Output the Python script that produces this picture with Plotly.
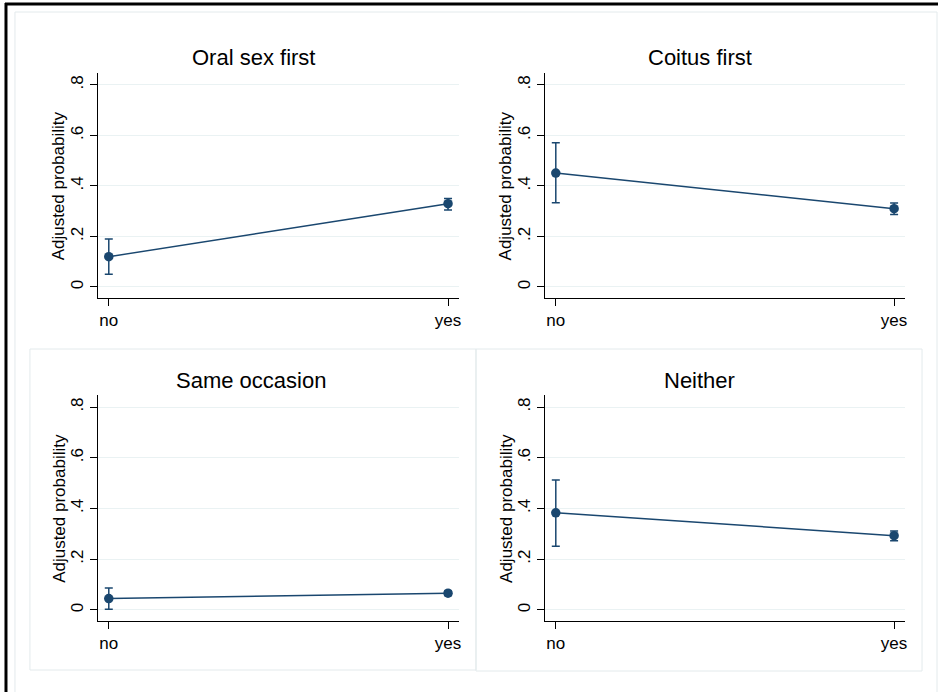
import plotly.graph_objects as go

categories = ["no", "yes"]
panel_titles = ["Oral sex first", "Coitus first", "Same occasion", "Neither"]

oral_est = [0.12, 0.33]
oral_lo = [0.05, 0.305]
oral_hi = [0.19, 0.35]

coitus_est = [0.451, 0.31]
coitus_lo = [0.334, 0.287]
coitus_hi = [0.571, 0.333]

same_est = [0.045, 0.066]
same_lo = [0.003, 0.057]
same_hi = [0.087, 0.075]

neither_est = [0.383, 0.293]
neither_lo = [0.251, 0.273]
neither_hi = [0.512, 0.311]

y_ticks = [0, 0.2, 0.4, 0.6, 0.8]
y_ticktext = ["0", ".2", ".4", ".6", ".8"]

W, H = 940, 692
NAVY = "#1a476f"
GRID = "#eaf2f3"
FONT = "Arial, Liberation Sans, sans-serif"

series = [
    (oral_est, oral_lo, oral_hi),
    (coitus_est, coitus_lo, coitus_hi),
    (same_est, same_lo, same_hi),
    (neither_est, neither_lo, neither_hi),
]

# pixel domains
x_dom_px = [(98, 460), (546, 907), (98, 460), (546, 907)]
y_dom_px = [(73, 298), (73, 298), (395, 621), (395, 621)]
title_px = [(254, 58), (701, 58), (252, 380), (701, 380)]
ytitle_px = [59, 507, 59, 507]

def px(x):
    return x / W

def py(y):
    return 1 - y / H

fig = go.Figure()
xpos = list(range(len(categories)))

for i, (est, lo, hi) in enumerate(series):
    ax = "" if i == 0 else str(i + 1)
    fig.add_trace(go.Scatter(
        x=xpos, y=est,
        mode="lines+markers",
        line=dict(color=NAVY, width=1.5),
        marker=dict(color=NAVY, size=9.5),
        error_y=dict(type="data", symmetric=False,
                     array=[h - e for h, e in zip(hi, est)],
                     arrayminus=[e - l for e, l in zip(est, lo)],
                     color=NAVY, thickness=1.5, width=4),
        xaxis="x" + ax, yaxis="y" + ax, showlegend=False,
        hoverinfo="skip",
    ))
    x0, x1 = x_dom_px[i]
    y0, y1 = y_dom_px[i]
    xa = dict(domain=[px(x0), px(x1)], range=[-0.0324, 1.0324],
              tickvals=xpos, ticktext=categories, ticks="outside", ticklen=7,
              tickcolor="black", showline=True, linecolor="black", linewidth=1,
              showgrid=False, zeroline=False, anchor="y" + ax,
              tickfont=dict(family=FONT, size=17, color="black"), fixedrange=True)
    ya = dict(domain=[py(y1), py(y0)], range=[-0.0436, 0.8475],
              tickvals=y_ticks, ticktext=y_ticktext, tickangle=-90,
              ticks="outside", ticklen=7, tickcolor="black",
              showline=True, linecolor="black", linewidth=1,
              showgrid=True, gridcolor=GRID, gridwidth=1, zeroline=False,
              anchor="x" + ax,
              tickfont=dict(family=FONT, size=17, color="black"), fixedrange=True)
    fig.layout["xaxis" + ax] = xa
    fig.layout["yaxis" + ax] = ya
    tx, ty = title_px[i]
    fig.add_annotation(text=panel_titles[i], x=px(tx), y=py(ty), xref="paper", yref="paper",
                       showarrow=False, xanchor="center", yanchor="middle",
                       font=dict(family=FONT, size=22, color="black"))
    fig.add_annotation(text="Adjusted probability", x=px(ytitle_px[i]),
                       y=py((y0 + y1) / 2), xref="paper", yref="paper",
                       showarrow=False, textangle=-90, xanchor="center", yanchor="middle",
                       font=dict(family=FONT, size=17, color="black"))

shapes = [
    dict(type="rect", xref="paper", yref="paper", x0=px(15), x1=px(939), y0=py(696), y1=py(12),
         line=dict(color="#e3eaec", width=1), layer="below"),
    dict(type="rect", xref="paper", yref="paper", x0=px(30), x1=px(477), y0=py(670), y1=py(349),
         line=dict(color="#e3eaec", width=1), layer="below"),
    dict(type="rect", xref="paper", yref="paper", x0=px(477), x1=px(924), y0=py(671), y1=py(349),
         line=dict(color="#e3eaec", width=1), layer="below"),
    dict(type="line", xref="paper", yref="paper", x0=px(6), x1=px(6), y0=0, y1=py(3),
         line=dict(color="black", width=3)),
    dict(type="line", xref="paper", yref="paper", x0=px(5), x1=1, y0=py(4), y1=py(4),
         line=dict(color="black", width=3)),
]

fig.update_layout(
    width=W, height=H,
    margin=dict(l=0, r=0, t=0, b=0),
    paper_bgcolor="white", plot_bgcolor="white",
    shapes=shapes,
    font=dict(family=FONT, color="black"),
)

fig.write_html("out.html",
               config={"displayModeBar": False, "staticPlot": True},
               post_script="document.body.style.margin='0';document.body.style.overflow='hidden';")
